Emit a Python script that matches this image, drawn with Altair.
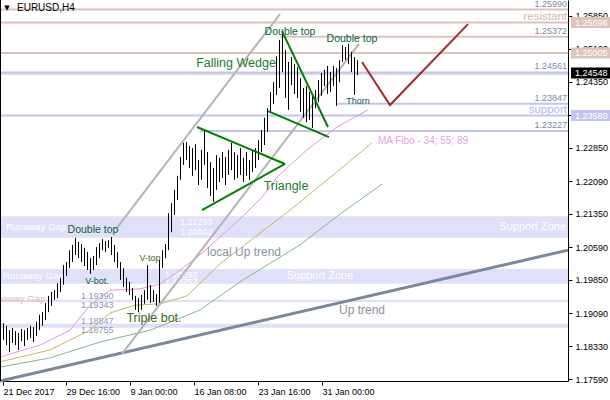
import altair as alt
import pandas as pd

# ---- view bounds (bar index / price) ----
BAR_LO, BAR_HI = -1.0, 188.333
PRICE_LO, PRICE_HI = 1.17545, 1.26208
W, H = 568, 381

# ---- EURUSD H4 bars, oldest first ----
bar_high = [
    1.1886, 1.1880, 1.1870, 1.1875, 1.1868, 1.1864, 1.1873, 1.1870, 1.1875, 1.1880,
    1.1877, 1.1889, 1.1905, 1.1911, 1.1932, 1.1948, 1.1957, 1.1961, 1.1977, 1.1989,
    1.2018, 1.2025, 1.2052, 1.2064, 1.2080, 1.2071, 1.2066, 1.2057, 1.2048, 1.2034,
    1.2039, 1.2059, 1.2068, 1.2077, 1.2073, 1.2075, 1.2082, 1.2064, 1.2048, 1.2025,
    1.2011, 1.1989, 1.1980, 1.1966, 1.1948, 1.1943, 1.1950, 1.1961, 1.2018, 1.1973,
    1.1961, 1.1952, 1.2030, 1.2052, 1.2066, 1.2136, 1.2159, 1.2189, 1.2221, 1.2264,
    1.2296, 1.2298, 1.2289, 1.2284, 1.2293, 1.2257, 1.2280, 1.2323, 1.2275, 1.2252,
    1.2239, 1.2268, 1.2262, 1.2275, 1.2264, 1.2280, 1.2296, 1.2275, 1.2268, 1.2284,
    1.2262, 1.2275, 1.2257, 1.2280, 1.2284, 1.2302, 1.2325, 1.2353, 1.2375, 1.2412,
    1.2434, 1.2493, 1.2530, 1.2546, 1.2507, 1.2480, 1.2491, 1.2475, 1.2468, 1.2443,
    1.2421, 1.2425, 1.2412, 1.2405, 1.2416, 1.2439, 1.2455, 1.2462, 1.2471, 1.2457,
    1.2471, 1.2466, 1.2484, 1.2518, 1.2514, 1.2521, 1.2503, 1.2491, 1.2484,
]
bar_low = [
    1.1848, 1.1836, 1.1820, 1.1841, 1.1836, 1.1825, 1.1845, 1.1834, 1.1848, 1.1852,
    1.1843, 1.1857, 1.1870, 1.1880, 1.1893, 1.1911, 1.1925, 1.1939, 1.1943, 1.1957,
    1.1973, 1.1993, 1.2011, 1.2025, 1.2041, 1.2034, 1.2025, 1.2016, 1.2007, 1.1998,
    1.2007, 1.2018, 1.2034, 1.2052, 1.2048, 1.2057, 1.2041, 1.2025, 1.2011, 1.1984,
    1.1968, 1.1957, 1.1950, 1.1939, 1.1916, 1.1911, 1.1916, 1.1930, 1.1939, 1.1932,
    1.1934, 1.1925, 1.1932, 1.2011, 1.2034, 1.2052, 1.2093, 1.2132, 1.2166, 1.2212,
    1.2246, 1.2257, 1.2239, 1.2221, 1.2234, 1.2200, 1.2212, 1.2246, 1.2193, 1.2175,
    1.2162, 1.2189, 1.2207, 1.2216, 1.2200, 1.2223, 1.2234, 1.2212, 1.2216, 1.2223,
    1.2207, 1.2221, 1.2212, 1.2230, 1.2239, 1.2257, 1.2275, 1.2291, 1.2321, 1.2366,
    1.2384, 1.2405, 1.2421, 1.2457, 1.2398, 1.2371, 1.2427, 1.2407, 1.2398, 1.2366,
    1.2353, 1.2343, 1.2348, 1.2330, 1.2375, 1.2389, 1.2403, 1.2425, 1.2407, 1.2412,
    1.2425, 1.2380, 1.2434, 1.2480, 1.2484, 1.2475, 1.2457, 1.2405, 1.2450,
]

# ---- axes ----
time_tick_bars = [0, 21, 42.333, 63.667, 85, 106.333]
time_tick_labels = ["21 Dec 2017", "29 Dec 16:00", "9 Jan 00:00",
                    "16 Jan 08:00", "23 Jan 16:00", "31 Jan 00:00"]
price_ticks = [1.2585, 1.2510, 1.2435, 1.2360, 1.2285, 1.2209,
               1.2135, 1.2059, 1.1985, 1.1909, 1.1833, 1.1759]

# ---- horizontal levels ----
res_levels = [1.25990, 1.25696, 1.25372, 1.25005]
res_start = [-1, -1, 92.33, -1]
res_text = ["1.25990", "resistant", "1.25372", ""]
sup_levels = [1.24561, 1.23847, 1.23580, 1.23227]
sup_start = [-1, 111.33, -1, 65.67]
sup_text = ["1.24561", "1.23847", "support", "1.23227"]
last_price = 1.24548

# ---- zones ----
zone_top = [1.21293, 1.20093, 1.19390, 1.18847]
zone_bottom = [1.20802, 1.19757, 1.19343, 1.18755]
zone_name = ["Runaway Gap", "Runaway Gap", "Runaway Gap", ""]
zone_name_bar = [1, 0, -6, 0]
zone_value_bar = [59, 54, 26, 26]

# ---- moving averages 34 / 55 / 89 ----
ma34_bar = [-1, 12.33, 22.33, 29, 35.67, 45.67, 52.33, 59, 65.67, 79, 86.67, 91.33, 101.33, 111.33, 121.67]
ma34_price = [1.1809, 1.1836, 1.1870, 1.1927, 1.1961, 1.1964, 1.1975, 1.2007, 1.2041, 1.2123,
              1.2175, 1.2218, 1.2280, 1.2332, 1.2371]
ma55_bar = [-1, 15.67, 29, 35.67, 44, 52.33, 61.33, 72.33, 81.33, 95.67, 111.33, 123]
ma55_price = [1.1798, 1.1825, 1.1870, 1.1909, 1.1927, 1.1930, 1.1948, 1.2021, 1.2068, 1.2143,
              1.2230, 1.2296]
ma89_bar = [-1, 15.67, 32.33, 49, 60, 65.67, 79, 99, 112.33, 126.33]
ma89_price = [1.1786, 1.1807, 1.1843, 1.1870, 1.1900, 1.1916, 1.1980, 1.2064, 1.2134, 1.2202]

# ---- drawn trend lines: (bar, price) -> (bar, price) ----
channel_lines = [(37.67, 1.2100, 92.33, 1.2589), (39.67, 1.1816, 118.67, 1.2521)]
uptrend_line = [(-1, 1.17545, 188.33, 1.2052)]
pattern_lines = [
    (64.67, 1.2332, 94.0, 1.2248),   # triangle top
    (66.33, 1.2143, 94.0, 1.2248),   # triangle bottom
    (93.0, 1.2550, 108.33, 1.2332),  # wedge top
    (88.33, 1.2368, 108.67, 1.2309),  # wedge bottom
]
forecast_bar = [119.67, 129, 155]
forecast_price = [1.2480, 1.2382, 1.2566]

DT = "#0c5f3e"
GR = "#237a2f"
notes = [
    ("Double top", 30, 1.2098, 10.5, DT),
    ("Double top", 95.67, 1.2548, 10.5, DT),
    ("Double top", 116.33, 1.2532, 10.5, DT),
    ("Falling Wedge", 77.67, 1.2478, 12.5, GR),
    ("Triangle", 94.33, 1.2198, 12.5, GR),
    ("Thorn", 118.33, 1.2391, 9, DT),
    ("V-top", 49, 1.2034, 9, "#3f6a1c"),
    ("V-bot.", 31.33, 1.1982, 9, DT),
    ("Triple bot.", 50.33, 1.1898, 12.5, "#3b6a23"),
    ("local Up trend", 80.33, 1.2048, 12, "#8a94a0"),
    ("Up trend", 119.67, 1.1916, 12, "#8a94a0"),
]

# ---- price tags at the right edge ----
tag_price = [1.25696, 1.25005, last_price, 1.23580]
tag_fill = ["#dcc4bc", "#dcc4bc", "#000000", "#c4c4f4"]

FONT = "Liberation Sans"
xs = alt.Scale(domain=[BAR_LO, BAR_HI], nice=False, zero=False)
ys = alt.Scale(domain=[PRICE_LO, PRICE_HI], nice=False, zero=False)

label_expr = " : ".join(
    f"round(datum.value) == {round(v)} ? '{t}'" for v, t in zip(time_tick_bars, time_tick_labels)
) + " : ''"
x_axis = alt.Axis(
    values=time_tick_bars, labelExpr=label_expr, orient="bottom", title=None, grid=False,
    tickSize=4, labelAlign="left", labelPadding=2, labelFont=FONT, labelFontSize=9,
    labelColor="black", domainColor="black", tickColor="black",
    labelOverlap=False, labelFlush=False)
y_axis = alt.Axis(
    values=price_ticks, format=".5f", orient="right", title=None, grid=False,
    tickSize=4, labelPadding=3, labelFont=FONT, labelFontSize=9,
    labelColor="black", domainColor="black", tickColor="black",
    labelOverlap=False, labelFlush=False)


def X(f):
    return alt.X(f, type="quantitative", scale=xs, axis=x_axis)


def Y(f):
    return alt.Y(f, type="quantitative", scale=ys, axis=y_axis)


one = pd.DataFrame({"k": [0]})

# zones
zones = pd.DataFrame({"top": zone_top, "bottom": zone_bottom, "x0": BAR_LO, "x1": BAR_HI,
                      "mid": [(a + b) / 2 for a, b in zip(zone_top, zone_bottom)],
                      "name": zone_name, "nbar": zone_name_bar})
zone_rect = alt.Chart(zones).mark_rect(color="#e0e0f8").encode(
    x=X("x0"), x2="x1", y=Y("top"), y2="bottom")
zone_names = alt.Chart(zones.iloc[:2]).mark_text(
    align="left", font=FONT, fontSize=9.5, color="white").encode(
    x=X("nbar"), y=Y("mid"), text="name")
zone_name_clip = alt.Chart(zones.iloc[2:3]).mark_text(
    align="left", font=FONT, fontSize=9.5, color="#d8bcb2", clip=True, dy=-2).encode(
    x=X("nbar"), y=Y("mid"), text="name")
zone_tag_df = pd.DataFrame({"t": ["Support Zone", "Support Zone"], "b": [187.67, 105.67],
                            "p": [zones["mid"][0], zones["mid"][1]]})
zone_tag_r = alt.Chart(zone_tag_df.iloc[:1]).mark_text(
    align="right", font=FONT, fontSize=11, color="white").encode(x=X("b"), y=Y("p"), text="t")
zone_tag_c = alt.Chart(zone_tag_df.iloc[1:]).mark_text(
    align="center", font=FONT, fontSize=11, color="white").encode(x=X("b"), y=Y("p"), text="t")

zone_dy_top = [6, 6, -4, -3]
zone_dy_bot = [-6, -2, 3, 2]
zone_val_color = ["white", "white", "#8796b4", "#8796b4"]
zone_vals = []
for i in range(4):
    for pr, dy in ((zone_top[i], zone_dy_top[i]), (zone_bottom[i], zone_dy_bot[i])):
        zone_vals.append(
            alt.Chart(pd.DataFrame({"t": [f"{pr:.5f}"], "b": [zone_value_bar[i]], "p": [pr]}))
            .mark_text(align="left", font=FONT, fontSize=9, color=zone_val_color[i], dy=dy)
            .encode(x=X("b"), y=Y("p"), text="t"))

# levels
res_df = pd.DataFrame({"p": res_levels, "x0": res_start, "x1": BAR_HI})
sup_df = pd.DataFrame({"p": sup_levels, "x0": sup_start, "x1": BAR_HI})
res_lines = alt.Chart(res_df).mark_rule(strokeWidth=2, color="#dcc4bc").encode(
    x=X("x0"), x2="x1", y=Y("p"))
sup_lines = alt.Chart(sup_df).mark_rule(strokeWidth=2, color="#c4c4f4").encode(
    x=X("x0"), x2="x1", y=Y("p"))
last_line = alt.Chart(pd.DataFrame({"p": [last_price], "x0": [BAR_LO], "x1": [BAR_HI]})).mark_rule(
    color="#c0c0c0", strokeWidth=1, yOffset=1).encode(x=X("x0"), x2="x1", y=Y("p"))

lab_rows = []
for p, t in zip(res_levels, res_text):
    if t:
        lab_rows.append((p, t, "#7d8aa5" if t[0].isdigit() else "#d4b8b0", 9 if t[0].isdigit() else 11.5))
for p, t in zip(sup_levels, sup_text):
    lab_rows.append((p, t, "#7d8aa5" if t[0].isdigit() else "#b4b4ec", 9 if t[0].isdigit() else 11.5))
lev_lab = pd.DataFrame(lab_rows, columns=["p", "t", "c", "s"])
lev_lab["b"] = 188.0
lev_labels = alt.Chart(lev_lab).mark_text(
    align="right", baseline="bottom", font=FONT, dy=-1).encode(
    x=X("b"), y=Y("p"), text="t",
    color=alt.Color("c:N", scale=None), size=alt.Size("s:Q", scale=None))

# moving averages
ma_layers = []
for bars_, prices_, col in ((ma89_bar, ma89_price, "#86b886"),
                            (ma55_bar, ma55_price, "#c9b662"),
                            (ma34_bar, ma34_price, "#e396e3")):
    ma_layers.append(alt.Chart(pd.DataFrame({"bar": bars_, "price": prices_}))
                     .mark_line(strokeWidth=1, color=col)
                     .encode(x=X("bar"), y=Y("price")))
ma_label = alt.Chart(pd.DataFrame({"t": ["MA Fibo - 34; 55; 89"], "b": [125], "p": [1.2300]})).mark_text(
    align="left", font=FONT, fontSize=10, color="#e3a3e3").encode(x=X("b"), y=Y("p"), text="t")


def seg_df(segs):
    return pd.DataFrame(segs, columns=["b0", "p0", "b1", "p1"])


up_rule = alt.Chart(seg_df(uptrend_line)).mark_rule(color="#7b8898", strokeWidth=3).encode(
    x=X("b0"), x2="b1", y=Y("p0"), y2="p1")
chan_rule = alt.Chart(seg_df(channel_lines)).mark_rule(color="#b4b4b4", strokeWidth=2).encode(
    x=X("b0"), x2="b1", y=Y("p0"), y2="p1")

# price bars
bars_df = pd.DataFrame({"bar": list(range(len(bar_high))), "high": bar_high, "low": bar_low})
bars = alt.Chart(bars_df).mark_rule(color="black", strokeWidth=1, xOffset=0.5).encode(
    x=X("bar"), y=Y("low"), y2="high")

pattern = alt.Chart(seg_df(pattern_lines)).mark_rule(color="#008000", strokeWidth=2).encode(
    x=X("b0"), x2="b1", y=Y("p0"), y2="p1")
forecast = alt.Chart(pd.DataFrame({"bar": forecast_bar, "price": forecast_price})).mark_line(
    color="#a52a2a", strokeWidth=2).encode(x=X("bar"), y=Y("price"))

notes_df = pd.DataFrame(notes, columns=["t", "b", "p", "s", "c"])
note_text = alt.Chart(notes_df).mark_text(font=FONT).encode(
    x=X("b"), y=Y("p"), text="t",
    size=alt.Size("s:Q", scale=None), color=alt.Color("c:N", scale=None))

# price tags beyond the right axis
tags = pd.DataFrame({"p": tag_price, "f": tag_fill, "t": [f"{v:.5f}" for v in tag_price]})
tag_box = alt.Chart(tags).mark_rule(strokeWidth=11).encode(
    x=alt.value(W + 3), x2=alt.value(W + 42), y=Y("p"), color=alt.Color("f:N", scale=None))
tag_text = alt.Chart(tags).mark_text(align="left", font=FONT, fontSize=9, color="white").encode(
    x=alt.value(W + 7), y=Y("p"), text="t")

left_edge = alt.Chart(one).mark_rule(color="black").encode(
    x=alt.value(0.5), y=alt.value(0), y2=alt.value(H))
title_mark = alt.Chart(one).mark_text(font="DejaVu Sans", fontSize=7, color="black").encode(
    x=alt.value(7), y=alt.value(8), text=alt.value("▼"))
title_text = alt.Chart(one).mark_text(align="left", font=FONT, fontSize=10, color="black").encode(
    x=alt.value(17), y=alt.value(8), text=alt.value("EURUSD,H4"))

chart = alt.layer(
    zone_rect, zone_names, zone_name_clip, zone_tag_r, zone_tag_c, *zone_vals,
    res_lines, sup_lines, last_line, lev_labels,
    *ma_layers, ma_label, up_rule, chan_rule,
    bars, pattern, forecast, note_text,
    tag_box, tag_text, left_edge, title_mark, title_text,
).properties(
    width=W, height=H,
    padding={"left": 0, "top": 0, "right": 42, "bottom": 19},
    autosize=alt.AutoSizeParams(type="none"),
    background="white",
).configure_view(stroke=None)

chart.save("out.html", embed_options={"renderer": "svg", "actions": False})
